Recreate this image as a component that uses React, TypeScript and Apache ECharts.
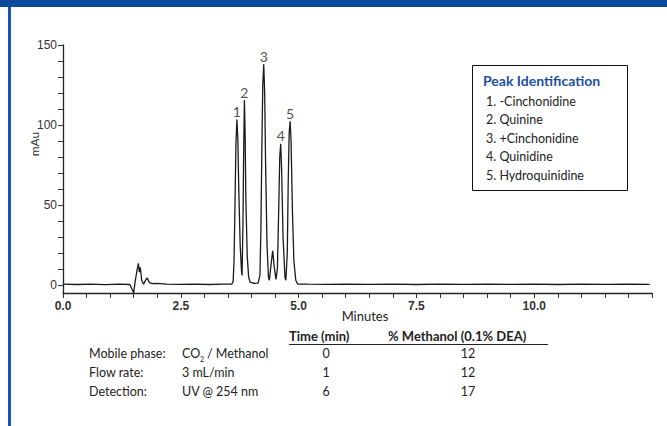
import { useEffect, useRef } from "react";
import * as echarts from "echarts";

// Chromatogram trace (minutes, mAu)
const retentionTimes = [
  0.0, 0.3, 0.6, 0.9, 1.2, 1.42, 1.47, 1.5, 1.53, 1.57, 1.6, 1.62, 1.64, 1.67, 1.71, 1.76, 1.79, 1.83, 1.9, 2.0,
  2.2, 2.5, 2.8, 3.1, 3.4, 3.58,
  3.61, 3.63, 3.65, 3.67, 3.69, 3.71, 3.73, 3.76, 3.79, 3.8,
  3.82, 3.835, 3.85, 3.865, 3.88, 3.91, 3.94, 3.97, 4.05, 4.14,
  4.18, 4.2, 4.22, 4.24, 4.26, 4.28, 4.3, 4.33, 4.36, 4.38,
  4.42, 4.45, 4.48, 4.52,
  4.55, 4.58, 4.6, 4.62, 4.64, 4.67, 4.71, 4.73,
  4.76, 4.78, 4.8, 4.82, 4.84, 4.87, 4.9, 4.94, 4.98,
  5.2, 5.6, 6.0, 6.5, 7.0, 7.5, 8.0, 8.5, 9.0, 9.5, 10.0, 10.5, 11.0, 11.5, 12.0, 12.45,
];
const absorbance = [
  0.5, 0.3, 0.6, 0.2, 0.5, 0.3, -3, -5, 2, 9, 13.5, 8, 11, 3, 0.5, 3.5, 4.4, 1.5, 0.8, 1.0,
  0.6, 0.4, 0.5, 0.3, 0.5, 0.6,
  2, 15, 50, 88, 103.4, 92, 60, 25, 8, 6,
  40, 85, 115.6, 95, 55, 18, 5, 1.8, 1.0, 1.2,
  6, 35, 85, 125, 138, 120, 75, 25, 5, 3,
  14, 21.4, 12, 3.5,
  10, 50, 80, 88.2, 72, 30, 5, 3,
  20, 65, 95, 102.3, 90, 45, 15, 3, 0.6,
  0.5, 0.4, 0.6, 0.4, 0.5, 0.3, 0.5, 0.4, 0.6, 0.4, 0.5, 0.3, 0.5, 0.4, 0.5, 0.4,
];

const peakTimes = [3.69, 3.85, 4.26, 4.62, 4.82];
const peakHeights = [103.4, 115.6, 138, 88.2, 102.3];
const peakNumbers = ["1", "2", "3", "4", "5"];
const peakNames = ["1. -Cinchonidine", "2. Quinine", "3. +Cinchonidine", "4. Quinidine", "5. Hydroquinidine"];

const xLabelValues = [0, 2.5, 5, 7.5, 10];
const xTickValues = [0, 0.5, 1, 1.5, 2, 2.5, 3, 3.5, 4, 4.5, 5, 5.5, 6, 6.5, 7, 7.5, 8, 8.5, 9, 9.5, 10, 10.5, 11, 11.5, 12, 12.5];
const yLabelValues = [0, 50, 100, 150];
const yTickValues = [0, 10, 20, 30, 40, 50, 60, 70, 80, 90, 100, 110, 120, 130, 140, 150];

const conditionLabels = ["Mobile phase:", "Flow rate:", "Detection:"];
const conditionValues = ["", "3 mL/min", "UV @ 254 nm"];
const gradientTimes = ["0", "1", "6"];
const gradientMethanol = ["12", "12", "17"];

const FONT = "Lato, 'Noto Sans', sans-serif";
const TXT = "#222";

export default function App() {
  const ref = useRef<HTMLDivElement>(null);
  useEffect(() => {
    if (!ref.current) return;
    const chart = echarts.init(ref.current, undefined, { renderer: "svg" });
    const trace = retentionTimes.map((t, i) => [t, absorbance[i]]);
    const peaks = peakTimes.map((t, i) => ({ value: [t, peakHeights[i]], name: peakNumbers[i] }));

    const rowY = [353, 372, 391];
    const rowFont = 12.5;
    const graphics: any[] = [
      { type: "rect", shape: { x: 0, y: 0, width: 667, height: 7 }, style: { fill: "#0b4a9b" }, z: 10 },
      { type: "rect", shape: { x: 8, y: 7, width: 3, height: 419 }, style: { fill: "#1556aa" }, z: 10 },
      {
        type: "rect",
        shape: { x: 472.5, y: 65.5, width: 155, height: 125 },
        style: { fill: "#fff", stroke: "#111", lineWidth: 1 },
        z: 10,
      },
      {
        type: "text", x: 483, y: 80, z: 11,
        style: { text: "Peak Identification", fontFamily: FONT, fontSize: 14, fontWeight: "bold", fill: "#1a4f9f", textVerticalAlign: "middle" },
      },
      ...peakNames.map((n, i) => ({
        type: "text", x: 486, y: 101 + i * 18.5, z: 11,
        style: { text: n, fontFamily: FONT, fontSize: 12.5, fill: TXT, textVerticalAlign: "middle" },
      })),
      {
        type: "text", x: 34, y: 144, rotation: Math.PI / 2, z: 11,
        style: { text: "mAu", fontFamily: FONT, fontSize: 12, fill: "#333", textAlign: "center", textVerticalAlign: "middle" },
      },
      {
        type: "text", x: 365, y: 316, z: 11,
        style: { text: "Minutes", fontFamily: FONT, fontSize: 13, fill: TXT, textAlign: "center", textVerticalAlign: "middle" },
      },
      {
        type: "text", x: 289, y: 336, z: 11,
        style: { text: "Time (min)", fontFamily: FONT, fontSize: 13, fontWeight: "bold", fill: TXT, textVerticalAlign: "middle" },
      },
      {
        type: "text", x: 388, y: 336, z: 11,
        style: { text: "% Methanol (0.1% DEA)", fontFamily: FONT, fontSize: 13, fontWeight: "bold", fill: TXT, textVerticalAlign: "middle" },
      },
      { type: "line", shape: { x1: 289, y1: 344.5, x2: 548, y2: 344.5 }, style: { stroke: TXT, lineWidth: 1 }, z: 11 },
      ...conditionLabels.map((n, i) => ({
        type: "text", x: 89, y: rowY[i], z: 11,
        style: { text: n, fontFamily: FONT, fontSize: rowFont, fill: TXT, textVerticalAlign: "middle" },
      })),
      ...conditionValues.map((n, i) => ({
        type: "text", x: 182, y: rowY[i], z: 11,
        style: { text: n, fontFamily: FONT, fontSize: rowFont, fill: TXT, textVerticalAlign: "middle" },
      })),
      {
        type: "text", x: 182, y: rowY[0], z: 11,
        style: { text: "CO", fontFamily: FONT, fontSize: rowFont, fill: TXT, textVerticalAlign: "middle" },
      },
      {
        type: "text", x: 200, y: rowY[0] + 6, z: 11,
        style: { text: "2", fontFamily: FONT, fontSize: 7, fill: TXT, textVerticalAlign: "middle" },
      },
      {
        type: "text", x: 207, y: rowY[0], z: 11,
        style: { text: "/ Methanol", fontFamily: FONT, fontSize: rowFont, fill: TXT, textVerticalAlign: "middle" },
      },
      ...gradientTimes.map((n, i) => ({
        type: "text", x: 326, y: rowY[i], z: 11,
        style: { text: n, fontFamily: FONT, fontSize: rowFont, fill: TXT, textAlign: "center", textVerticalAlign: "middle" },
      })),
      ...gradientMethanol.map((n, i) => ({
        type: "text", x: 468, y: rowY[i], z: 11,
        style: { text: n, fontFamily: FONT, fontSize: rowFont, fill: TXT, textAlign: "center", textVerticalAlign: "middle" },
      })),
    ];

    chart.setOption({
      animation: false,
      backgroundColor: "#fff",
      grid: { left: 63, right: 15, top: 45, bottom: 133, containLabel: false },
      xAxis: {
        type: "value",
        min: 0,
        max: 12.5,
        splitLine: { show: false },
        axisLine: { show: true, onZero: false, lineStyle: { color: "#222", width: 1.3 } },
        axisTick: { show: true, customValues: xTickValues, length: 5, lineStyle: { color: "#333" } },
        axisLabel: {
          customValues: xLabelValues,
          formatter: (v: number) => v.toFixed(1),
          fontFamily: "'Liberation Sans', Arial, sans-serif",
          fontSize: 12,
          fontWeight: "bold",
          color: "#333",
          margin: 7,
        },
      },
      yAxis: {
        type: "value",
        min: -5,
        max: 150,
        splitLine: { show: false },
        axisLine: { show: true, onZero: false, lineStyle: { color: "#222", width: 1.3 } },
        axisTick: { show: true, customValues: yTickValues, length: 5, lineStyle: { color: "#333" } },
        axisLabel: {
          customValues: yLabelValues,
          fontFamily: "'Liberation Sans', Arial, sans-serif",
          fontSize: 12,
          color: "#333",
          margin: 6,
        },
      },
      series: [
        {
          type: "line",
          data: trace,
          symbol: "none",
          lineStyle: { color: "#1a1a1a", width: 1.3 },
          z: 3,
        },
        {
          type: "scatter",
          data: peaks,
          symbolSize: 0,
          label: {
            show: true,
            position: "top",
            distance: 1,
            formatter: (p: any) => p.name,
            fontFamily: FONT,
            fontSize: 14,
            color: "#222",
          },
          z: 4,
        },
      ],
      graphic: graphics,
    });
    return () => chart.dispose();
  }, []);

  return <div ref={ref} style={{ position: "fixed", left: 0, top: 0, width: 667, height: 426 }} />;
}
